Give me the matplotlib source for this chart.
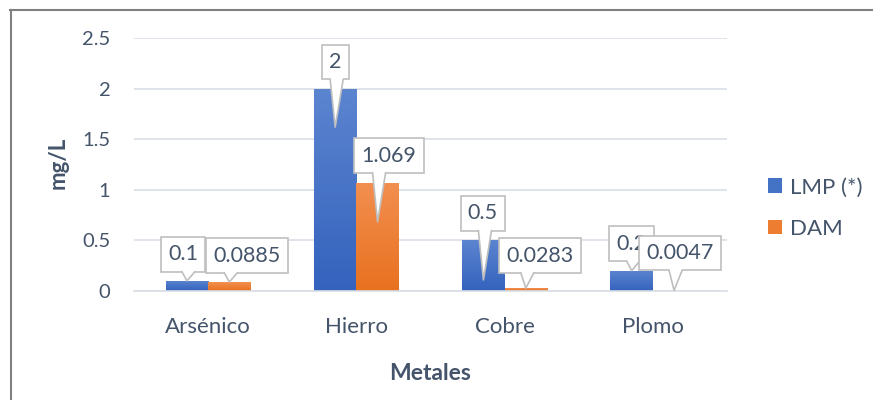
import matplotlib.pyplot as plt
import numpy as np
from matplotlib.colors import LinearSegmentedColormap
from matplotlib.lines import Line2D
from matplotlib.patches import Patch, Polygon
from matplotlib.transforms import IdentityTransform

metales = ['Arsénico', 'Hierro', 'Cobre', 'Plomo']
lmp = [0.1, 2, 0.5, 0.2]
dam = [0.0885, 1.069, 0.0283, 0.0047]
lmp_labels = ['0.1', '2', '0.5', '0.2']
dam_labels = ['0.0885', '1.069', '0.0283', '0.0047']
y_ticks = [0, 0.5, 1, 1.5, 2, 2.5]

# callouts: (box dx px, box dy px, drop of the wedge tip below the bar top px)
lmp_callouts = [(-4, 26.5, 0), (0, 26.5, 38.5), (-0.5, 27, 39.5), (0, 27, 0)]
dam_callouts = [(17.5, 26.5, 0), (11.5, 27.3, 39), (14, 32.6, 0), (6, 37.5, 0)]

txt = '#44546A'
grid_c = '#D9DEE6'
box_ec = '#BFBFBF'
plt.rcParams['font.family'] = ['Lato', 'DejaVu Sans']

fig = plt.figure(figsize=(8.73, 4.0), dpi=100)
ax = fig.add_axes([134 / 873, 1 - 291 / 400, 593 / 873, 253 / 400])

x = np.arange(len(metales))
w = 0.286
bars_lmp = ax.bar(x - w / 2, lmp, w, linewidth=0, zorder=2)
bars_dam = ax.bar(x + w / 2, dam, w, linewidth=0, zorder=2)


def gradient_fill(bars, top, bottom):
    grad = np.linspace(0, 1, 256).reshape(-1, 1)
    cmap = LinearSegmentedColormap.from_list('g', [bottom, top])
    for b in bars:
        x0, y0 = b.get_xy()
        b.set_facecolor('none')
        im = ax.imshow(grad, extent=[x0, x0 + b.get_width(), y0, y0 + b.get_height()],
                       origin='lower', cmap=cmap, aspect='auto', zorder=2)
        im.set_clip_path(b)


gradient_fill(bars_lmp, '#5C85D0', '#3462BD')
gradient_fill(bars_dam, '#F28F50', '#E8711F')
ax.set_xlim(-0.5, len(metales) - 0.5)
ax.set_ylim(0, 2.5)

ax.set_yticks(y_ticks)
ax.set_yticklabels([f'{t:g}' for t in y_ticks])
ax.set_xticks(x)
ax.set_xticklabels(metales)
ax.tick_params(axis='both', length=0, labelcolor=txt)
ax.tick_params(axis='y', pad=17, labelsize=14.5)
ax.tick_params(axis='x', pad=19, labelsize=16)
ax.grid(axis='y', color=grid_c, linewidth=1.2)
ax.set_axisbelow(True)
for s in ('top', 'right', 'left'):
    ax.spines[s].set_visible(False)
ax.spines['bottom'].set_color(grid_c)
ax.spines['bottom'].set_linewidth(1.2)

ax.set_xlabel('Metales', fontsize=16.5, fontweight='bold', color=txt, va='center')
ax.xaxis.set_label_coords(0.5, (291 - 373) / 253)
ax.set_ylabel('mg/L', fontsize=16, fontweight='bold', color=txt, va='center')
ax.yaxis.set_label_coords((58 - 134) / 593, (291 - 163) / 253)

handles = [Patch(facecolor='#4472C4', label='LMP (*)'),
           Patch(facecolor='#ED7D31', label='DAM')]
fig.legend(handles=handles, loc='center left', bbox_to_anchor=(768 / 873, 1 - 208 / 400),
           frameon=False, fontsize=16, labelcolor=txt, borderpad=0, borderaxespad=0,
           handlelength=0.62, handleheight=0.62, handletextpad=0.35, labelspacing=0.95)

# data callouts: box with a wedge pointing at the bar
notes = []
z = 5
for xs, vals, labels, spots in ((x - w / 2, lmp, lmp_labels, lmp_callouts),
                                (x + w / 2, dam, dam_labels, dam_callouts)):
    for xi, v, lab, (dx, dy, drop) in zip(xs, vals, labels, spots):
        ann = ax.annotate(lab, xy=(xi, v), xytext=(dx, dy), textcoords='offset pixels',
                          ha='center', va='center', fontsize=15.5, color=txt, zorder=z,
                          bbox=dict(boxstyle='square,pad=0.34', fc='white', ec=box_ec, lw=1.2))
        notes.append((ann, xi, v, drop, z))
        z += 1

fig.canvas.draw()
renderer = fig.canvas.get_renderer()
for ann, xi, v, drop, zz in notes:
    bb = ann.get_bbox_patch().get_window_extent(renderer)
    tx, ty = ax.transData.transform((xi, v))
    ty -= drop
    b0 = max(tx - 5, bb.x0 + 2)
    b1 = min(tx + 8, bb.x1 - 2)
    if b1 - b0 < 8:
        b0 = b1 - 8
    y0 = bb.y0
    ax.add_artist(Polygon([(b0, y0 + 2), (b0, y0), (tx, ty), (b1, y0), (b1, y0 + 2)],
                          closed=True, facecolor='white', edgecolor='none',
                          transform=IdentityTransform(), zorder=zz + 0.01, clip_on=False))
    ax.add_artist(Line2D([b0, tx, b1], [y0, ty, y0], color=box_ec, lw=1.2,
                         transform=IdentityTransform(), zorder=zz + 0.02, clip_on=False))

# chart frame
fig.add_artist(Line2D([10 / 873, 1], [1 - 10 / 400] * 2, transform=fig.transFigure,
                      color='#808080', lw=1.5))
fig.add_artist(Line2D([10.5 / 873] * 2, [0, 1 - 10 / 400], transform=fig.transFigure,
                      color='#808080', lw=1.5))

fig.savefig('out.png', dpi=100)
